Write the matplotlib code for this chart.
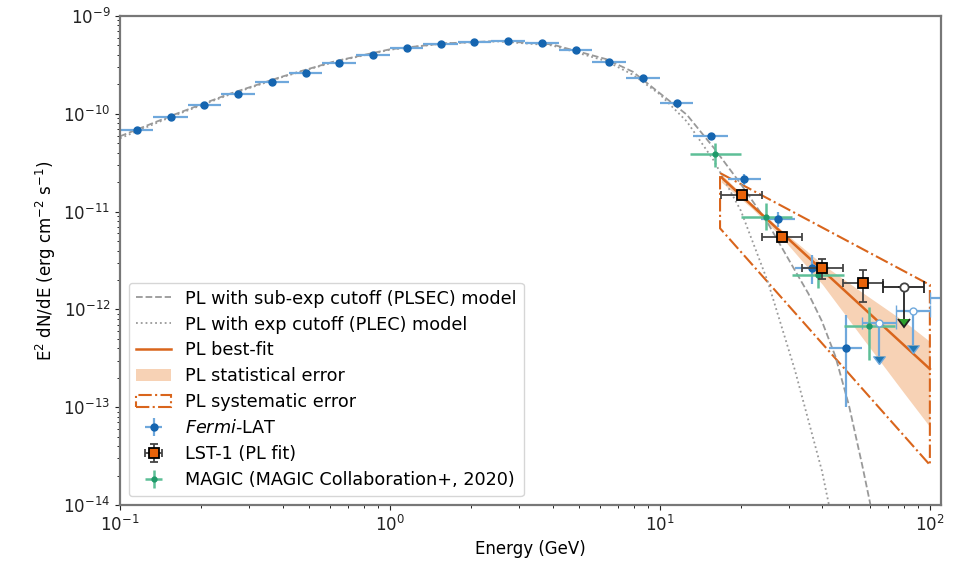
import numpy as np
import matplotlib
matplotlib.use("Agg")
import matplotlib.pyplot as plt
from matplotlib.patches import Patch

# ---- Fermi-LAT points (GeV, erg cm-2 s-1) ----
fermi_E = [0.1155, 0.154, 0.205, 0.274, 0.365, 0.487, 0.649, 0.866, 1.155, 1.54,
           2.05, 2.74, 3.65, 4.87, 6.49, 8.66, 11.55, 15.4, 20.5, 27.4, 36.5, 48.7]
fermi_Elo = [0.1, 0.133, 0.178, 0.237, 0.316, 0.422, 0.562, 0.75, 1.0, 1.33,
             1.78, 2.37, 3.16, 4.22, 5.62, 7.5, 10.0, 13.3, 17.8, 23.7, 31.6, 42.2]
fermi_Ehi = [0.133, 0.178, 0.237, 0.316, 0.422, 0.562, 0.75, 1.0, 1.33, 1.78,
             2.37, 3.16, 4.22, 5.62, 7.5, 10.0, 13.3, 17.8, 23.7, 31.6, 42.2, 56.2]
fermi_F = [6.83e-11, 9.34e-11, 1.23e-10, 1.58e-10, 2.10e-10, 2.63e-10, 3.33e-10, 3.99e-10,
           4.71e-10, 5.14e-10, 5.38e-10, 5.59e-10, 5.26e-10, 4.49e-10, 3.35e-10, 2.31e-10,
           1.28e-10, 5.93e-11, 2.14e-11, 8.34e-12, 2.67e-12, 4.0e-13]
fermi_Flo = [1.4e-12, 1.9e-12, 2.5e-12, 3.2e-12, 4.2e-12, 5.3e-12, 6.7e-12, 8.0e-12,
             9.4e-12, 1.0e-11, 1.1e-11, 1.1e-11, 1.1e-11, 1.0e-11, 9e-12, 8e-12,
             6e-12, 4e-12, 2.5e-12, 1.3e-12, 8.3e-13, 3.0e-13]
fermi_Fhi = [1.4e-12, 1.9e-12, 2.5e-12, 3.2e-12, 4.2e-12, 5.3e-12, 6.7e-12, 8.0e-12,
             9.4e-12, 1.0e-11, 1.1e-11, 1.1e-11, 1.1e-11, 1.0e-11, 9e-12, 8e-12,
             6e-12, 4.5e-12, 2.8e-12, 1.5e-12, 9.3e-13, 4.8e-13]
# Fermi-LAT upper limits
fermi_ul_E = [64.9, 86.6, 115.5]
fermi_ul_Elo = [56.2, 75.0, 100.0]
fermi_ul_Ehi = [75.0, 100.0, 133.0]
fermi_ul_F = [7.2e-13, 9.64e-13, 1.30e-12]
fermi_ul_arrow = [3.9e-13, 5.3e-13, 6.8e-13]

# ---- LST-1 points ----
lst_E = [20.1, 28.4, 40.0, 56.6]
lst_Elo = [16.9, 23.8, 33.7, 47.5]
lst_Ehi = [23.8, 33.7, 47.5, 67.0]
lst_F = [1.48e-11, 5.54e-12, 2.63e-12, 1.87e-12]
lst_Flo = [0.9e-12, 0.4e-12, 0.6e-12, 0.67e-12]
lst_Fhi = [1.0e-12, 0.45e-12, 0.62e-12, 0.66e-12]
lst_ul_E = [79.9]
lst_ul_Elo = [67.0]
lst_ul_Ehi = [95.0]
lst_ul_F = [1.68e-12]
lst_ul_arrow = [0.89e-12]

# ---- MAGIC points ----
magic_E = [16.0, 24.7, 38.5, 59.5]
magic_Elo = [12.9, 20.0, 30.9, 48.0]
magic_Ehi = [20.0, 30.9, 48.0, 74.1]
magic_F = [3.86e-11, 8.87e-12, 2.25e-12, 6.8e-13]
magic_Flo = [0.98e-11, 2.38e-12, 0.61e-12, 3.76e-13]
magic_Fhi = [1.13e-11, 3.29e-12, 0.73e-12, 3.9e-13]

# ---- model curves ----
plsec_E = [0.1, 0.158, 0.251, 0.398, 0.631, 1.0, 1.585, 2.512, 3.981, 6.31,
           7.94, 10.0, 12.59, 15.85, 19.95, 25.12, 31.62, 35.48, 39.81, 44.67,
           50.12, 56.23, 60.26]
plsec_F = [5.89e-11, 9.77e-11, 1.58e-10, 2.40e-10, 3.47e-10, 4.57e-10, 5.25e-10, 5.56e-10,
           5.13e-10, 3.63e-10, 2.69e-10, 1.62e-10, 9.77e-11, 4.47e-11, 1.91e-11,
           7.59e-12, 2.51e-12, 1.45e-12, 7.59e-13, 3.31e-13, 1.05e-13, 2.51e-14, 1.0e-14]
plec_E = [0.1, 0.158, 0.251, 0.398, 0.631, 1.0, 1.585, 2.512, 3.981, 6.31,
          7.94, 10.0, 12.59, 15.85, 19.95, 25.12, 31.62, 39.81, 42.66]
plec_F = [5.62e-11, 9.55e-11, 1.55e-10, 2.37e-10, 3.43e-10, 4.52e-10, 5.25e-10, 5.50e-10,
          5.01e-10, 3.47e-10, 2.51e-10, 1.58e-10, 8.32e-11, 3.31e-11, 1.02e-11,
          1.91e-12, 2.40e-13, 2.24e-14, 8.9e-15]

# PL best fit
pl_E = [16.9, 100.0]
pl_F = [2.24e-11, 2.46e-13]
# statistical band
band_E = [16.9, 22.0, 28.0, 40.0, 56.0, 80.0, 100.0]
band_hi = [2.40e-11, 1.20e-11, 6.6e-12, 2.90e-12, 1.50e-12, 7.6e-13, 4.7e-13]
band_lo = [2.0e-11, 1.07e-11, 5.6e-12, 1.80e-12, 5.2e-13, 1.41e-13, 6.3e-14]
# systematic envelope
sys_E = [16.7, 100.0, 100.0, 16.7]
sys_F = [2.48e-11, 1.78e-12, 2.57e-14, 6.75e-12]

fermi_c = "#1565b0"
fermi_ec = "#6fa8dc"
magic_c = "#1f9a6a"
magic_ec = "#5dbf97"
pl_c = "#d9651c"
band_c = "#f7d2b5"

plt.rcParams["font.family"] = ["DejaVu Sans"]

fig = plt.figure(figsize=(9.58, 5.64), dpi=100)
ax = fig.add_axes([0.1253, 0.1046, 0.857, 0.867])

ax.plot(plsec_E, plsec_F, ls="--", color="#999999", lw=1.3,
        label="PL with sub-exp cutoff (PLSEC) model")
ax.plot(plec_E, plec_F, ls=":", color="#999999", lw=1.3,
        label="PL with exp cutoff (PLEC) model")
ax.plot(pl_E, pl_F, color=pl_c, lw=1.8, label="PL best-fit")
ax.fill_between(band_E, band_lo, band_hi, color=band_c, lw=0,
                label="PL statistical error")
ax.fill(sys_E, sys_F, fill=False, edgecolor=pl_c, ls="-.", lw=1.5)
sys_handle = Patch(facecolor="none", edgecolor=pl_c, ls="-.", lw=1.5,
                   label="PL systematic error")


def xerr_of(E, lo, hi):
    E = np.array(E)
    return [E - np.array(lo), np.array(hi) - E]


fermi_h = ax.errorbar(fermi_E, fermi_F, xerr=xerr_of(fermi_E, fermi_Elo, fermi_Ehi),
                      yerr=[fermi_Flo, fermi_Fhi], fmt="o", ms=5, color=fermi_c,
                      ecolor=fermi_ec, elinewidth=1.6, capsize=0,
                      label=r"$\it{Fermi}$-LAT")
ax.errorbar(fermi_ul_E, fermi_ul_F, xerr=xerr_of(fermi_ul_E, fermi_ul_Elo, fermi_ul_Ehi),
            yerr=[fermi_ul_arrow, np.zeros(len(fermi_ul_F))], uplims=True,
            fmt="o", ms=5, mfc="white", mec=fermi_ec, ecolor=fermi_ec,
            elinewidth=1.6, capsize=4)

lst_h = ax.errorbar(lst_E, lst_F, xerr=xerr_of(lst_E, lst_Elo, lst_Ehi),
                    yerr=[lst_Flo, lst_Fhi], fmt="s", ms=7, mfc="#e8630a", mec="black",
                    mew=1.3, ecolor="#444444", elinewidth=1.3, capsize=3,
                    label="LST-1 (PL fit)", zorder=5)
ax.errorbar(lst_ul_E, lst_ul_F, xerr=xerr_of(lst_ul_E, lst_ul_Elo, lst_ul_Ehi),
            yerr=[lst_ul_arrow, [0]], uplims=True, fmt="o", ms=6, mfc="white",
            mec="#444444", mew=1.3, ecolor="#222222", elinewidth=1.3, capsize=4,
            zorder=5)

magic_h = ax.errorbar(magic_E, magic_F, xerr=xerr_of(magic_E, magic_Elo, magic_Ehi),
                      yerr=[magic_Flo, magic_Fhi], fmt="o", ms=3.5, color=magic_c,
                      ecolor=magic_ec, elinewidth=1.8, capsize=0,
                      label="MAGIC (MAGIC Collaboration+, 2020)")

ax.set_xscale("log")
ax.set_yscale("log")
ax.set_xlim(0.1, 110)
ax.set_ylim(1e-14, 1e-9)
ax.set_xlabel("Energy (GeV)", fontsize=12)
ax.set_ylabel(r"E$^2$ dN/dE (erg cm$^{-2}$ s$^{-1}$)", fontsize=12)
ax.tick_params(labelsize=12, colors="#222222")
for s in ax.spines.values():
    s.set_color("#777777")
    s.set_linewidth(1.6)

handles, labels = ax.get_legend_handles_labels()
order = ["PL with sub-exp cutoff (PLSEC) model", "PL with exp cutoff (PLEC) model",
         "PL best-fit", "PL statistical error"]
hs = [handles[labels.index(l)] for l in order] + [sys_handle, fermi_h, lst_h, magic_h]
ls_ = order + ["PL systematic error", r"$\it{Fermi}$-LAT", "LST-1 (PL fit)",
               "MAGIC (MAGIC Collaboration+, 2020)"]
ax.legend(hs, ls_, loc="lower left", fontsize=12.7, labelspacing=0.45)

fig.savefig("out.png", dpi=100)
